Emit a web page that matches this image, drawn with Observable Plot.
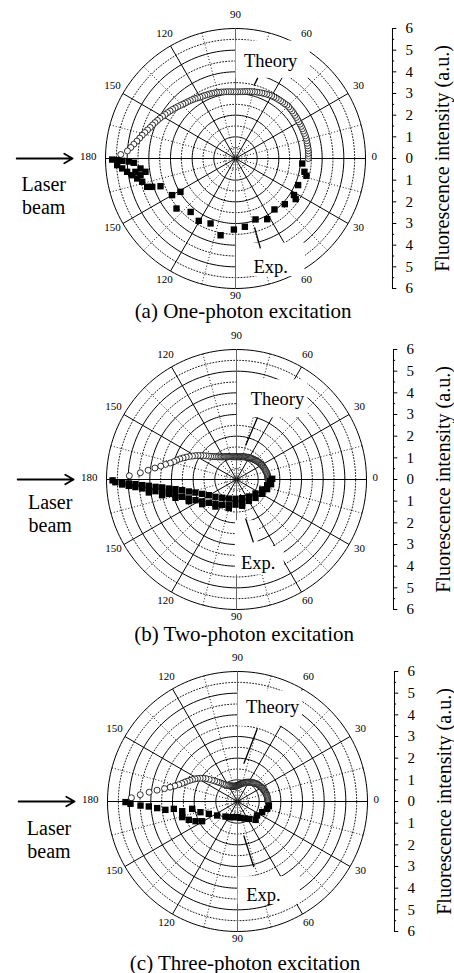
<!DOCTYPE html>
<html><head><meta charset="utf-8">
<script src="https://cdn.jsdelivr.net/npm/d3@7"></script>
<script src="https://cdn.jsdelivr.net/npm/@observablehq/plot@0.6"></script>
<style>
body{margin:0;background:#fff;width:454px;}
#chart svg{display:block;}
</style></head><body><div id="chart"></div>
<script>
// ---------- data ----------
const theoryAngles = d3.range(0, 180, 2); // polar angle (deg), upper half
const theoryA = [3.36,3.37,3.37,3.38,3.38,3.38,3.38,3.39,3.39,3.39,3.38,3.38,3.38,3.38,3.38,3.38,3.38,
  3.39,3.39,3.40,3.41,3.41,3.42,3.42,3.40,
  3.39,3.38,3.37,3.36,3.35,3.34,3.32,3.30,3.28,3.26,
  3.24,3.22,3.20,3.18,3.16,3.14,3.12,3.10,3.09,3.08,
  3.08,3.08,3.09,3.10,3.11,3.12,3.14,3.15,3.17,3.18,
  3.20,3.21,3.22,3.24,3.25,3.27,3.30,3.33,3.36,3.39,
  3.42,3.45,3.49,3.53,3.58,3.63,3.68,3.73,3.78,3.83,
  3.89,3.95,4.01,4.07,4.13,4.19,4.27,4.35,4.44,4.52,
  4.62,4.74,4.86,5.00,5.30];
const theoryB = [1.45,1.45,1.45,1.45,1.44,1.44,1.43,1.42,1.41,1.40,
  1.39,1.38,1.37,1.36,1.35,1.34,1.33,1.32,1.31,1.30,
  1.28,1.27,1.26,1.24,1.23,1.22,1.21,1.20,1.19,1.18,
  1.17,1.16,1.14,1.13,1.12,1.11,1.10,1.09,1.08,1.07,
  1.06,1.06,1.05,1.05,1.05,1.05,1.05,1.05,1.06,1.06,
  1.07,1.08,1.09,1.10,1.11,1.12,1.13,1.15,1.17,1.19,
  1.21,1.23,1.26,1.29,1.33,1.37,1.42,1.47,1.53,1.60,
  1.68,1.77,1.87,1.98,2.09,2.20,2.30,2.42,2.54,2.66,
  2.78,2.90,3.00,3.15,3.35,3.55,3.80,4.10,4.45,4.95];
const theoryC = [1.40,1.40,1.40,1.40,1.39,1.39,1.38,1.37,1.36,1.35,
  1.34,1.33,1.32,1.31,1.30,1.29,1.28,1.26,1.25,1.24,
  1.22,1.21,1.19,1.17,1.15,1.13,1.11,1.09,1.07,1.05,
  1.03,1.01,0.99,0.97,0.95,0.92,0.90,0.88,0.86,0.84,
  0.82,0.80,0.78,0.76,0.75,0.74,0.73,0.72,0.72,0.72,
  0.72,0.72,0.73,0.74,0.75,0.76,0.77,0.78,0.80,0.82,
  0.84,0.87,0.90,0.95,1.00,1.07,1.15,1.23,1.31,1.42,
  1.53,1.66,1.80,1.92,2.03,2.13,2.22,2.31,2.40,2.50,
  2.60,2.70,2.82,2.98,3.18,3.42,3.75,4.10,4.50,4.90];

// experimental points: angle (deg, lower half, 0 = right) and intensity
const expAngleA = [4.3,10.9,13.7,23,32,34,42.8,52.6,62.4,71.8,82.2,91.3,101,111,120.5,130,139.7,148.8,150,159.7,
  161.2,162.2,166,168.5,170.8,173,175,176.8,179.5,179.2,178.8,178.4,177.6,170,171.6,174,172.4];
const expIntensityA = [3.09,3.24,3.37,3.14,3.18,3.35,3.10,2.96,3.16,2.96,3.18,3.28,3.61,3.21,3.34,3.22,3.57,2.97,3.38,3.69,
  4.06,4.28,4.44,4.63,4.83,5.04,5.25,5.47,5.69,5.46,5.23,4.93,4.70,4.45,4.20,4.41,4.66];

const expAngleB = [179.6,178.7,178.3,177.9,177.4,176.6,175.9,174.8,173.9,172.4,171.0,168.9,165.9,162.4,157.3,150.5,140.5,128.0,112.0,93.0,73.1,54.0,36.4,21.3,10.5,2.3,
  177.5,176.6,175.7,174.6,173.3,171.8,170.1,168.0,165.6,162.3,158.3,153.2,147.4,139.9,130.8,119.5,106.6,92.3,76.5,60.0,44.0,29.2,17.5,7.7,-1.1,
  171.6,168.1,163.3,155.6,144.3,127.9,105.1,77.9];
const expIntensityB = [5.72,5.59,5.28,4.97,4.67,4.36,4.06,3.75,3.45,3.15,2.85,2.56,2.27,1.99,1.72,1.47,1.26,1.07,0.95,0.89,0.90,0.97,1.09,1.27,1.44,1.54,
  5.28,4.98,4.68,4.37,4.07,3.78,3.48,3.19,2.91,2.63,2.37,2.12,1.88,1.67,1.48,1.34,1.24,1.16,1.12,1.14,1.22,1.36,1.48,1.61,1.65,
  4.09,3.51,2.94,2.42,1.95,1.58,1.36,1.24];

const expAngleC = [179.7,178.8,177.6,176.8,175.3,173.4,173.4,170,164.2,159.4,154.9,150.9,170.8,163.9,156.7,145.5,128.7,103,79.6,56.8,45.5,35.5,23.4,13.9,8.5,7.3,115,90,67];
const expIntensityC = [5.17,4.94,4.48,4.10,3.72,3.35,2.96,2.59,2.65,2.40,2.14,1.87,2.12,1.78,1.44,1.14,0.89,0.74,0.77,0.96,1.19,1.11,1.24,1.41,1.46,1.46,0.80,0.72,0.85];

const angleTickLabels = [0,30,60,90,120,150,180,150,120,90,60,30]; // at 0°,30°,...,330°
const intensityTicks = [-6,-5,-4,-3,-2,-1,0,1,2,3,4,5,6];
const captions = ["(a) One-photon excitation","(b) Two-photon excitation","(c) Three-photon excitation"];
const axisTitle = "Fluorescence intensity (a.u.)";

// ---------- drawing ----------
const deg = Math.PI / 180;
const R = 130;
const FONT = "Liberation Serif, DejaVu Serif, serif";
const ringPts = d3.range(0.5, 6.01, 0.5).flatMap(r => d3.range(0, 361, 2).map(a => ({r, a})));
const spokes = d3.range(0, 360, 15);
const minorTicks = d3.range(-5.5, 6, 1);
const px = d => d.r * Math.cos(d.a * deg);
const pyUp = d => d.r * Math.sin(d.a * deg);
const pyDown = d => -d.r * Math.sin(d.a * deg);

const panels = [
  {caption: captions[0], theory: theoryA, ea: expAngleA, ei: expIntensityA, height: 320, cx: 235, cy: 158,
   capY: -7.07, laserY: -1.15, laserX: -8.85,
   theoryLbl: [1.62, 4.5], expLbl: [1.62, -5.03],
   theoryLead: [0.85, 3.37, 1.03, 3.72], expLead: [0.88, -3.18, 1.15, -4.15],
   boxes: [{x1: 0.03, x2: 3.45, y1: 3.7, y2: 5.42}, {x1: 0.05, x2: 3.2, y1: -5.45, y2: -3.9}]},
  {caption: captions[1], theory: theoryB, ea: expAngleB, ei: expIntensityB, height: 320, cx: 236, cy: 159,
   capY: -7.15, laserY: -1.0, laserX: -8.6,
   theoryLbl: [1.89, 3.69], expLbl: [1.0, -3.88],
   theoryLead: [0.97, 2.86, 0.42, 1.57], expLead: [0.42, -1.8, 0.78, -2.9],
   boxes: [{x1: 0.05, x2: 3.3, y1: 2.85, y2: 4.6}, {x1: -0.05, x2: 1.0, y1: -4.4, y2: -1.9}, {x1: -0.05, x2: 2.2, y1: -4.4, y2: -3.1}]},
  {caption: captions[2], theory: theoryC, ea: expAngleC, ei: expIntensityC, height: 333, cx: 237, cy: 161,
   capY: -7.45, laserY: -1.2, laserX: -8.7,
   theoryLbl: [1.62, 4.34], expLbl: [1.2, -4.34],
   theoryLead: [0.91, 3.35, 0.29, 1.74], expLead: [0.29, -1.57, 0.75, -3.03],
   boxes: [{x1: 0.03, x2: 3.0, y1: 3.47, y2: 5.1}, {x1: 0.03, x2: 2.9, y1: -4.75, y2: -3.47}]}
];

function panel(p) {
  const theory = theoryAngles.map((a, i) => ({a, r: p.theory[i]}));
  const exp = p.ea.map((a, i) => ({a, r: p.ei[i]}));
  const labels = angleTickLabels.map((label, i) => ({a: i * 30, label, r: i === 0 ? 6.4 : i === 6 ? 6.8 : i === 9 ? 6.42 : 6.55}));
  const axX = 7.245;
  const T = {fontFamily: FONT, fill: "black"};
  return Plot.plot({
    width: 454, height: p.height, margin: 0,
    style: {fontFamily: FONT, background: "white", overflow: "visible"},
    x: {domain: [-6, 6], range: [p.cx - R, p.cx + R], axis: null},
    y: {domain: [-6, 6], range: [p.cy + R, p.cy - R], axis: null},
    marks: [
      // grid
      Plot.line(ringPts.filter(d => d.r % 1 !== 0), {x: px, y: pyUp, z: "r", stroke: "black", strokeWidth: 0.9, strokeDasharray: "1,2"}),
      Plot.line(ringPts.filter(d => d.r % 1 === 0), {x: px, y: pyUp, z: "r", stroke: "black", strokeWidth: 1}),
      Plot.link(spokes.filter(a => a % 30 !== 0), {x1: () => 0, y1: () => 0, x2: a => 6 * Math.cos(a * deg), y2: a => 6 * Math.sin(a * deg), stroke: "black", strokeWidth: 0.9, strokeDasharray: "1,2"}),
      Plot.link(spokes.filter(a => a % 30 === 0), {x1: () => 0, y1: () => 0, x2: a => 6 * Math.cos(a * deg), y2: a => 6 * Math.sin(a * deg), stroke: a => (a === 90 || a === 270) ? "#666" : "black", strokeWidth: 1}),
      Plot.text(labels, {x: d => d.r * Math.cos(d.a * deg), y: d => d.r * Math.sin(d.a * deg), text: "label", fontSize: 11, dy: -2, ...T}),
      // label backgrounds
      Plot.rect(p.boxes, {x1: "x1", x2: "x2", y1: "y1", y2: "y2", fill: "white"}),
      // right intensity axis
      Plot.ruleX([axX], {y1: () => -6, y2: () => 6, stroke: "black", strokeWidth: 1}),
      Plot.ruleY(intensityTicks, {y: d => d, x1: () => axX, x2: () => axX + 0.2, stroke: "black"}),
      Plot.ruleY(minorTicks, {y: d => d, x1: () => axX, x2: () => axX + 0.1, stroke: "black"}),
      Plot.text(intensityTicks, {x: () => 8.02, y: d => d, text: d => String(Math.abs(d)), fontSize: 15, ...T}),
      Plot.text([axisTitle], {x: () => 9.55, y: () => 0, text: d => d, rotate: -90, fontSize: 20, ...T}),
      // data
      Plot.dot(theory, {x: px, y: pyUp, r: 3, stroke: "black", strokeWidth: 0.8, fill: "white"}),
      Plot.dot(exp, {x: px, y: pyDown, symbol: "square", r: 3.6, fill: "black", stroke: "none"}),
      // annotations
      Plot.text(["Theory"], {x: () => p.theoryLbl[0], y: () => p.theoryLbl[1], text: d => d, fontSize: 18.5, ...T}),
      Plot.text(["Exp."], {x: () => p.expLbl[0], y: () => p.expLbl[1], text: d => d, fontSize: 18.5, ...T}),
      Plot.link([p.theoryLead, p.expLead], {x1: d => d[0], y1: d => d[1], x2: d => d[2], y2: d => d[3], stroke: "black", strokeWidth: 1.3}),
      Plot.arrow([0], {x1: () => -10.1, y1: () => 0, x2: () => -7.52, y2: () => 0, stroke: "black", strokeWidth: 1.8, headLength: 8}),
      Plot.text(["Laser\nbeam"], {x: () => p.laserX, y: () => p.laserY - 0.53, text: d => d, fontSize: 20, lineHeight: 1.15, ...T}),
      Plot.text([p.caption], {x: () => 0.35, y: () => p.capY, text: d => d, fontSize: 21, ...T})
    ]
  });
}

const root = document.getElementById("chart");
panels.forEach(p => root.appendChild(panel(p)));
</script>
</body></html>
